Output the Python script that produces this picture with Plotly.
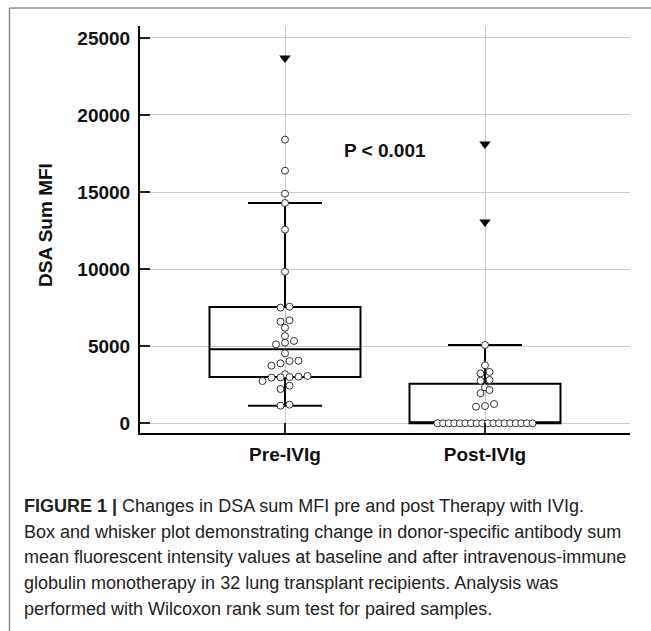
import plotly.graph_objects as go

# ---------------- data ----------------
categories = ["Pre-IVIg", "Post-IVIg"]
pre_values = [23690, 18400, 16380, 14890, 14290, 12560, 9830, 7560, 7500, 6680,
              6590, 6200, 5660, 5340, 5230, 5120, 4540, 4060, 4040, 3890,
              3740, 3180, 3070, 3020, 3000, 2980, 2960, 2740, 2440, 2220,
              1210, 1140]
post_values = [18110, 13060, 5080, 3760, 3330, 3240, 2810, 2760, 2330, 2160,
               1950, 1250, 1120, 1080, 0, 0, 0, 0, 0, 0,
               0, 0, 0, 0, 0, 0, 0, 0, 0, 0,
               0, 0]
box_q1 = [3000, 0]
box_median = [4800, 0]
box_q3 = [7540, 2570]
box_lower = [1140, 0]
box_upper = [14290, 5080]
y_ticks = [0, 5000, 10000, 15000, 20000, 25000]
y_tick_labels = ["0", "5000", "10000", "15000", "20000", "25000"]
p_label = "P < 0.001"
y_title = "DSA Sum MFI"
caption_lines = [
    "<b>FIGURE 1 |</b> Changes in DSA sum MFI pre and post Therapy with IVIg.",
    "Box and whisker plot demonstrating change in donor-specific antibody sum",
    "mean fluorescent intensity values at baseline and after intravenous-immune",
    "globulin monotherapy in 32 lung transplant recipients. Analysis was",
    "performed with Wilcoxon rank sum test for paired samples.",
]

# ---------------- layout geometry ----------------
W, H = 651, 631
ML, MR, MT, MB = 140, 21, 26, 198
plot_w = W - ML - MR
plot_h = H - MT - MB
x_range = [-0.725, 1.725]
y_range = [-630, 25770]
px_per_unit = plot_w / (x_range[1] - x_range[0])


def px_to_paper_x(px):
    return (px - ML) / plot_w


def px_to_paper_y(py):
    return (MT + plot_h - py) / plot_h


def dot_offsets(vals, threshold=350, step_px=9.0, max_row_px=95.0):
    """Dot-plot style binning: close values share a row, spread side by side."""
    order = sorted(range(len(vals)), key=lambda i: vals[i])
    groups, cur = [], []
    for i in order:
        if cur and vals[i] - vals[cur[0]] > threshold:
            groups.append(cur)
            cur = []
        cur.append(i)
    if cur:
        groups.append(cur)
    offs = {}
    for g in groups:
        n = len(g)
        step = step_px if n < 2 else min(step_px, max_row_px / (n - 1))
        for k, i in enumerate(g):
            offs[i] = (k - (n - 1) / 2) * step / px_per_unit
    return offs


fig = go.Figure()

fig.add_trace(go.Box(
    x=[0, 1], q1=box_q1, median=box_median, q3=box_q3,
    lowerfence=box_lower, upperfence=box_upper,
    width=0.755, whiskerwidth=0.49, boxpoints=False,
    line=dict(color="black", width=2), fillcolor="rgba(0,0,0,0)",
    hoverinfo="skip", showlegend=False,
))

circ_x, circ_y, tri_x, tri_y = [], [], [], []
for gi, vals in enumerate([pre_values, post_values]):
    iqr = box_q3[gi] - box_q1[gi]
    extreme_cut = box_q3[gi] + 3 * iqr
    normal = [v for v in vals if v <= extreme_cut]
    extreme = [v for v in vals if v > extreme_cut]
    offs = dot_offsets(normal)
    for i, v in enumerate(normal):
        circ_x.append(gi + offs[i])
        circ_y.append(v)
    for v in extreme:
        tri_x.append(gi)
        tri_y.append(v)

fig.add_trace(go.Scatter(
    x=circ_x, y=circ_y, mode="markers",
    marker=dict(symbol="circle", size=7, color="white",
                line=dict(color="#333333", width=1)),
    hoverinfo="y", showlegend=False,
))
fig.add_trace(go.Scatter(
    x=tri_x, y=tri_y, mode="markers",
    marker=dict(symbol="triangle-down", size=10, color="black"),
    hoverinfo="y", showlegend=False,
))

bold_font = dict(family="Liberation Sans, Arial, sans-serif", size=19,
                 color="#111111", weight="bold")

fig.update_layout(
    width=W, height=H,
    margin=dict(l=ML, r=MR, t=MT, b=MB, autoexpand=False),
    paper_bgcolor="white", plot_bgcolor="white",
    xaxis=dict(
        range=x_range, tickvals=[0, 1], ticktext=categories,
        showgrid=True, gridcolor="#cccccc", gridwidth=1,
        ticks="inside", ticklen=10, tickwidth=1.5, tickcolor="#222222",
        showline=True, linecolor="black", linewidth=2,
        zeroline=False, tickfont=bold_font, ticklabelstandoff=3,
    ),
    yaxis=dict(
        range=y_range, tickvals=y_ticks, ticktext=y_tick_labels,
        showgrid=True, gridcolor="#cccccc", gridwidth=1,
        ticks="inside", ticklen=10, tickwidth=1.5, tickcolor="#222222",
        showline=True, linecolor="black", linewidth=2,
        zeroline=False, tickfont=bold_font, ticklabelstandoff=4,
    ),
    font=dict(family="Liberation Sans, Arial, sans-serif"),
)

annotations = [
    dict(text=p_label, x=0.5, y=17700, xref="x", yref="y", showarrow=False,
         font=bold_font, xanchor="center", yanchor="middle"),
    dict(text=y_title, x=px_to_paper_x(45), y=px_to_paper_y(225),
         xref="paper", yref="paper", showarrow=False, textangle=-90,
         font=bold_font, xanchor="center", yanchor="middle"),
]
cap_y = [506, 532, 557, 583, 609]
for line, py in zip(caption_lines, cap_y):
    annotations.append(dict(
        text=line, x=px_to_paper_x(22), y=px_to_paper_y(py),
        xref="paper", yref="paper", showarrow=False,
        xanchor="left", yanchor="middle",
        font=dict(family="Liberation Sans, Arial, sans-serif", size=18,
                  color="#222222"),
    ))
fig.update_layout(annotations=annotations)

# figure frame (left and top border)
frame = dict(color="#8c8c8c", width=1.5)
fig.add_shape(type="line", xref="paper", yref="paper",
              x0=px_to_paper_x(9.5), x1=px_to_paper_x(9.5),
              y0=px_to_paper_y(8), y1=px_to_paper_y(H), line=frame)
fig.add_shape(type="line", xref="paper", yref="paper",
              x0=px_to_paper_x(9.5), x1=px_to_paper_x(W),
              y0=px_to_paper_y(8), y1=px_to_paper_y(8), line=frame)

fig.write_html("out.html",
               config={"displayModeBar": False},
               post_script="document.body.style.margin='0px';"
                           "document.body.style.overflow='hidden';")
